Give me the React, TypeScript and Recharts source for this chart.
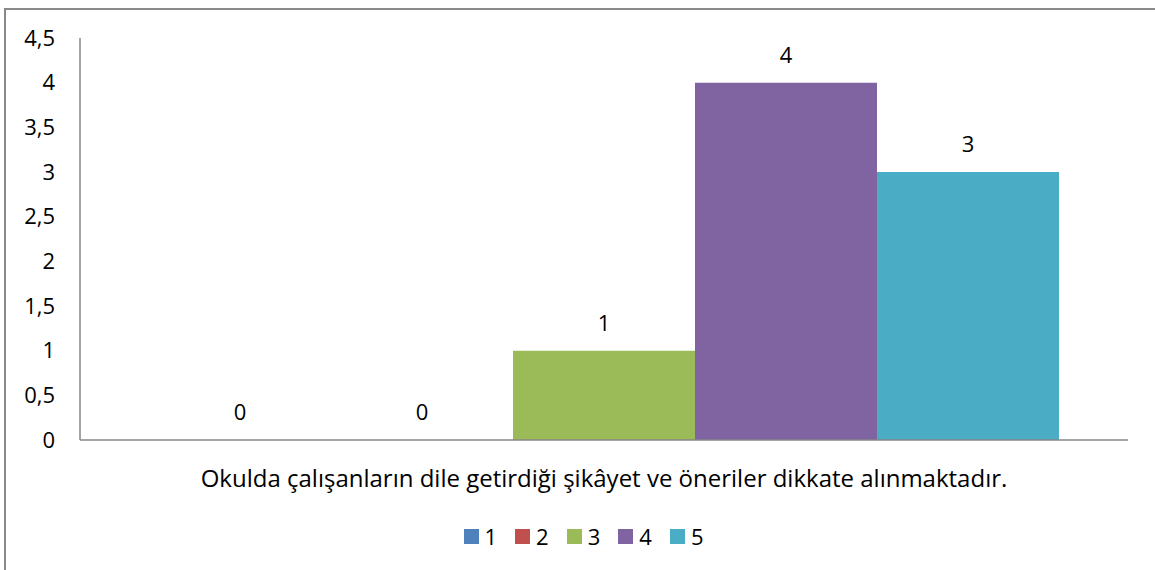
import { BarChart, Bar, XAxis, YAxis, LabelList } from 'recharts';

const category = 'Okulda çalışanların dile getirdiği şikâyet ve öneriler dikkate alınmaktadır.';
const seriesNames = ['1', '2', '3', '4', '5'];
const seriesValues = [0, 0, 1, 4, 3];
const seriesColors = ['#4F81BD', '#C0504D', '#9BBB59', '#8064A2', '#4BACC6'];
const yTicks = [0, 0.5, 1, 1.5, 2, 2.5, 3, 3.5, 4, 4.5];

const row: Record<string, string | number> = { name: category };
seriesNames.forEach((s, i) => {
  row['s' + s] = seriesValues[i];
});
const data = [row];

const FONT = "'Open Sans', sans-serif";
const FS = 22;

const fmt = (v: number) => String(v).replace('.', ',');

const ChartLegend = () => (
  <div
    style={{
      position: 'absolute',
      left: 6,
      top: 522,
      width: 1155,
      display: 'flex',
      justifyContent: 'center',
      fontFamily: FONT,
      fontSize: FS,
      lineHeight: '28px',
      color: '#000',
    }}
  >
    {seriesNames.map((s, i) => (
      <div key={s} style={{ display: 'flex', alignItems: 'center', marginRight: i < seriesNames.length - 1 ? 18 : 0 }}>
        <span style={{ display: 'inline-block', width: 15, height: 15, background: seriesColors[i], marginRight: 6 }} />
        <span>{s}</span>
      </div>
    ))}
  </div>
);

const App = () => {
  return (
    <div style={{ position: 'absolute', left: 0, top: 0, width: 1155, height: 570, background: '#fff', overflow: 'hidden' }}>
      <div
        style={{
          position: 'absolute',
          left: 4,
          top: 8,
          width: 1200,
          height: 600,
          borderTop: '2px solid #898989',
          borderLeft: '2px solid #898989',
        }}
      />
      <div style={{ position: 'absolute', left: 0, top: 0 }}>
        <BarChart
          width={1155}
          height={570}
          data={data}
          margin={{ top: 38, right: 27, left: 0, bottom: 0 }}
          barCategoryGap={69}
          barGap={0}
        >
          <XAxis
            dataKey="name"
            axisLine={{ stroke: '#868686', strokeWidth: 1.5 }}
            tickLine={false}
            tick={{ fill: '#000', fontSize: 24, fontFamily: FONT }}
            tickMargin={24}
            height={130}
          />
          <YAxis
            domain={[0, 4.5]}
            ticks={yTicks}
            interval={0}
            tickFormatter={fmt}
            axisLine={{ stroke: '#868686', strokeWidth: 1.5 }}
            tickLine={false}
            tick={{ fill: '#000', fontSize: FS, fontFamily: FONT }}
            tickMargin={19}
            width={80}
          />
          {seriesNames.map((s, i) => (
            <Bar
              key={s}
              dataKey={'s' + s}
              name={s}
              fill={seriesColors[i]}
              minPointSize={0.01}
              isAnimationActive={false}
            >
              <LabelList
                dataKey={'s' + s}
                position="top"
                offset={20}
                style={{ fill: '#000', fontSize: FS, fontFamily: FONT }}
              />
            </Bar>
          ))}
        </BarChart>
      </div>
      <ChartLegend />
    </div>
  );
};

export default App;
